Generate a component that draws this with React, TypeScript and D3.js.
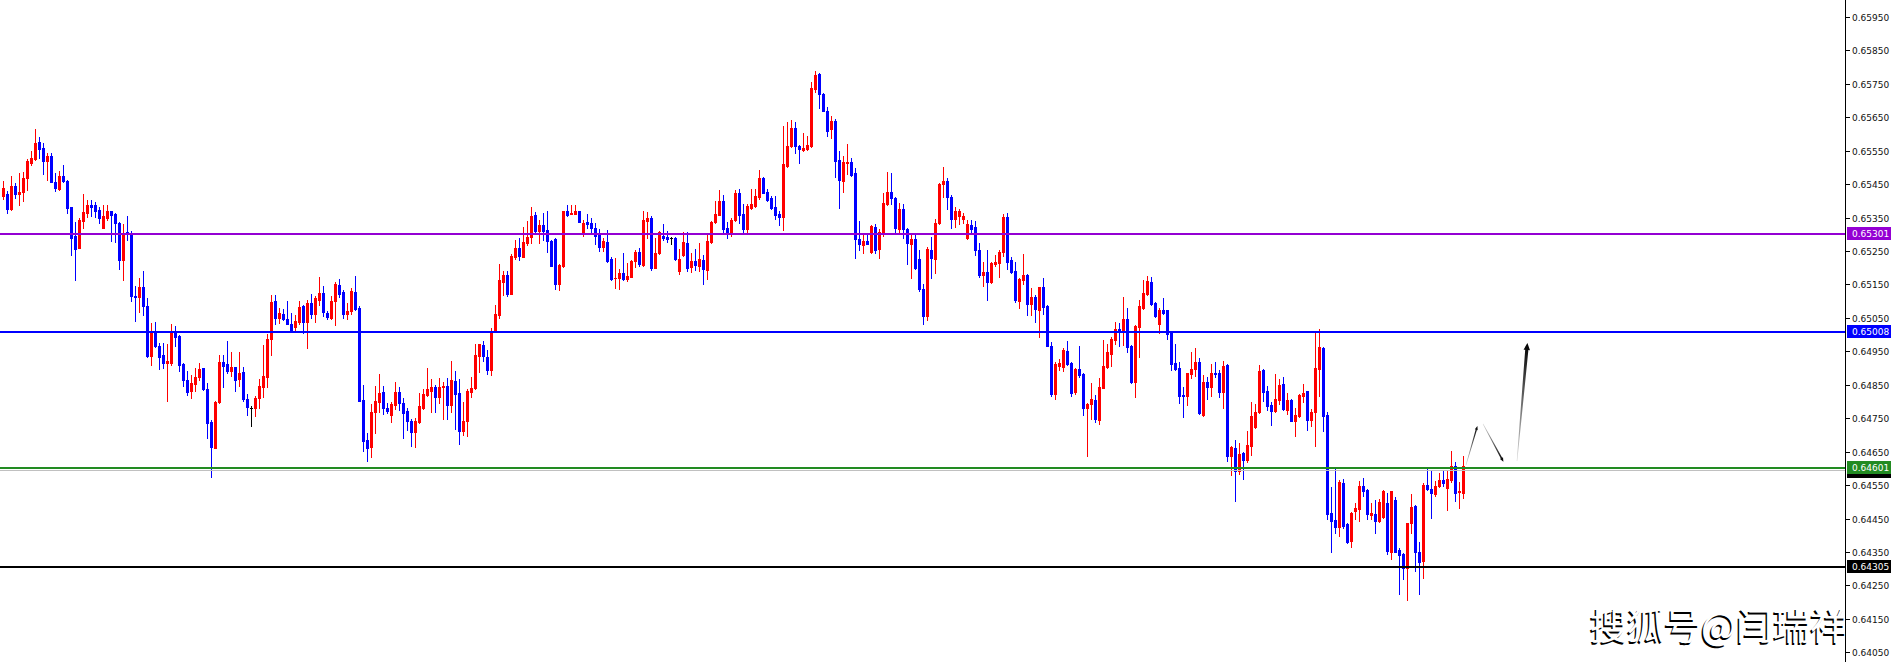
import React from "react";
import * as d3 from "d3";

const WIDTH = 1893;
const HEIGHT = 662;

// OHLC values, in points (1 point = 0.00001)
const opens = [
  65414,65421,65375,65445,65419,65427,65467,65512,65526,65576,
  65558,65520,65534,65457,65436,65475,65460,65381,65296,65260,
  65341,65365,65387,65387,65373,65320,65349,65369,65361,65333,
  65223,65306,65300,65116,65111,65143,65086,64936,65004,64966,
  64939,64914,64914,65009,64996,64912,64864,64831,64852,64874,
  64899,64836,64739,64662,64797,64917,64912,64892,64902,64868,
  64887,64807,64781,64779,64809,64844,64873,64986,65100,65050,
  65063,65048,65033,65023,65038,65085,65038,65093,65063,65103,
  65123,65066,65050,65100,65148,65127,65063,65070,65127,65080,
  64804,64684,64664,64769,64799,64828,64779,64761,64789,64828,
  64796,64772,64742,64709,64739,64779,64819,64831,64844,64812,
  64842,64846,64789,64861,64826,64712,64742,64828,64840,64937,
  64969,64934,64894,65008,65058,65158,65178,65121,65233,65258,
  65233,65275,65291,65359,65311,65328,65313,65280,65286,65151,
  65205,65369,65362,65360,65369,65306,65337,65334,65319,65297,
  65262,65277,65225,65168,65168,65183,65166,65173,65221,65248,
  65208,65341,65349,65200,65243,65296,65293,65288,65288,65191,
  65238,65275,65203,65220,65205,65223,65193,65276,65337,65359,
  65400,65319,65305,65342,65422,65362,65317,65379,65384,65410,
  65469,65426,65409,65382,65360,65352,65504,65564,65617,65564,
  65552,65554,65564,65733,65779,65719,65669,65614,65640,65522,
  65460,65512,65517,65482,65285,65268,65280,65248,65321,65255,
  65306,65390,65427,65409,65316,65375,65315,65271,65285,65225,
  65135,65055,65253,65226,65333,65450,65459,65412,65345,65355,
  65345,65289,65327,65322,65253,65178,65186,65158,65211,65215,
  65246,65352,65223,65190,65100,65163,65178,65090,65113,65073,
  65141,65085,64965,64822,64907,64904,64951,64916,64829,64897,
  64882,64779,64791,64804,64746,64841,64902,64942,64983,65016,
  65013,65048,64965,64857,65023,65080,65121,65156,65093,65031,
  65073,65073,65005,64914,64899,64819,64817,64882,64896,64919,
  64761,64859,64844,64884,64884,64829,64909,64637,64662,64592,
  64646,64624,64668,64725,64768,64894,64832,64788,64772,64805,
  64852,64775,64805,64743,64758,64817,64830,64745,64768,64898,
  64959,64760,64466,64446,64426,64556,64433,64384,64471,64479,
  64546,64536,64461,64464,64444,64456,64496,64351,64506,64356,
  64343,64301,64436,64488,64351,64323,64551,64539,64523,64546,
  64566,64541,64564,64606,64528,64526,
];

const highs = [
  65458,65428,65475,65453,65482,65486,65524,65550,65615,65590,
  65572,65542,65543,65484,65489,65507,65463,65383,65338,65350,
  65421,65403,65403,65395,65381,65387,65387,65371,65365,65338,
  65331,65355,65310,65145,65168,65190,65110,65036,65038,64974,
  64974,64972,65032,65026,64999,64914,64892,64879,64899,64916,
  64901,64854,64745,64800,64939,64939,64982,64948,64904,64949,
  64904,64823,64785,64816,64867,64970,65003,65118,65118,65080,
  65076,65100,65065,65058,65100,65088,65103,65121,65115,65171,
  65145,65070,65115,65156,65165,65133,65095,65138,65175,65085,
  64849,64707,64792,64845,64881,64845,64794,64799,64857,64842,
  64809,64779,64749,64752,64826,64837,64901,64866,64849,64871,
  64858,64871,64921,64891,64867,64799,64836,64872,64972,64972,
  64981,64954,65020,65088,65211,65191,65191,65241,65284,65288,
  65322,65339,65382,65367,65344,65363,65369,65283,65288,65211,
  65370,65389,65387,65387,65370,65344,65360,65349,65334,65315,
  65290,65314,65232,65228,65195,65245,65213,65223,65253,65260,
  65370,65366,65354,65290,65310,65330,65311,65293,65291,65255,
  65308,65306,65243,65255,65275,65238,65303,65339,65400,65432,
  65417,65337,65349,65432,65434,65390,65390,65434,65434,65492,
  65472,65435,65414,65414,65369,65623,65636,65641,65636,65567,
  65602,65595,65756,65788,65781,65721,65681,65653,65644,65550,
  65534,65570,65529,65497,65339,65300,65305,65328,65331,65315,
  65424,65487,65482,65412,65394,65390,65318,65305,65305,65253,
  65150,65263,65293,65345,65454,65500,65467,65417,65382,65377,
  65365,65344,65342,65340,65275,65218,65253,65218,65238,65253,
  65362,65364,65233,65218,65170,65240,65180,65138,65118,65143,
  65168,65088,64978,64919,64926,64959,64981,64919,64901,64966,
  64884,64794,64856,64819,64869,64984,64972,64994,65038,65036,
  65112,65081,64968,65028,65103,65163,65175,65173,65098,65080,
  65108,65075,65008,64973,64919,64844,64886,64947,64961,64929,
  64879,64872,64912,64917,64894,64922,64911,64666,64684,64677,
  64649,64711,64798,64793,64908,64897,64847,64799,64881,64866,
  64874,64825,64808,64780,64822,64852,64832,64777,65004,65017,
  64964,64770,64543,64602,64566,64568,64436,64468,64496,64561,
  64571,64539,64496,64506,64509,64534,64526,64533,64513,64361,
  64346,64436,64523,64491,64381,64556,64599,64593,64561,64586,
  64593,64593,64652,64618,64558,64636,
];

const lows = [
  65406,65365,65373,65407,65388,65398,65433,65507,65522,65528,
  65480,65463,65455,65428,65433,65457,65363,65238,65163,65259,
  65320,65353,65356,65351,65335,65320,65343,65281,65278,65196,
  65163,65283,65099,65042,65069,65059,64932,64909,64964,64898,
  64899,64800,64909,64966,64892,64846,64819,64811,64832,64864,
  64834,64690,64575,64660,64795,64844,64886,64876,64832,64847,
  64800,64760,64726,64756,64779,64814,64844,64938,65031,65035,
  65043,65031,65011,65015,65031,65005,64961,65050,65038,65088,
  65055,65048,65048,65028,65111,65051,65048,65063,65073,64800,
  64652,64622,64634,64706,64769,64762,64766,64739,64777,64774,
  64691,64714,64666,64664,64737,64776,64817,64769,64769,64794,
  64749,64747,64769,64717,64672,64699,64696,64812,64837,64888,
  64922,64882,64879,65008,65049,65118,65115,65120,65225,65223,
  65233,65268,65273,65303,65273,65283,65248,65205,65136,65133,
  65203,65355,65360,65360,65336,65296,65320,65303,65271,65250,
  65250,65218,65163,65140,65136,65163,65160,65171,65201,65206,
  65206,65288,65193,65198,65241,65283,65278,65270,65223,65181,
  65236,65191,65186,65193,65190,65150,65166,65273,65335,65357,
  65305,65290,65294,65340,65335,65302,65302,65377,65382,65404,
  65422,65400,65377,65345,65329,65314,65502,65560,65544,65512,
  65550,65552,65560,65726,65679,65669,65595,65589,65472,65380,
  65425,65479,65474,65228,65253,65243,65270,65245,65243,65228,
  65295,65387,65390,65308,65305,65290,65211,65168,65195,65131,
  65033,65045,65168,65183,65331,65412,65375,65320,65322,65332,
  65334,65286,65302,65238,65173,65145,65103,65155,65205,65173,
  65235,65196,65183,65098,65080,65150,65058,65060,65038,64993,
  65063,64966,64816,64807,64894,64892,64909,64816,64821,64874,
  64759,64637,64749,64739,64734,64839,64899,64907,64971,64966,
  64969,64949,64856,64814,64934,65078,65118,65088,65053,65005,
  65063,64986,64893,64893,64796,64754,64789,64871,64876,64764,
  64757,64806,64816,64874,64814,64779,64622,64579,64502,64584,
  64567,64619,64640,64720,64765,64800,64775,64730,64770,64792,
  64775,64762,64742,64698,64755,64798,64715,64728,64668,64815,
  64712,64449,64351,64406,64399,64423,64378,64366,64449,64444,
  64516,64449,64449,64406,64441,64453,64343,64329,64349,64223,
  64269,64207,64406,64294,64223,64271,64536,64451,64516,64543,
  64546,64476,64559,64501,64481,64511,
];

const closes = [
  65438,65377,65445,65419,65427,65469,65520,65528,65572,65554,
  65520,65534,65457,65437,65475,65460,65380,65290,65257,65343,
  65367,65387,65382,65371,65350,65355,65370,65359,65333,65223,
  65303,65300,65114,65111,65143,65086,64936,65004,64966,64934,
  64914,64922,65009,64994,64909,64864,64829,64854,64874,64898,
  64836,64737,64665,64798,64917,64906,64892,64902,64864,64884,
  64807,64783,64781,64809,64846,64876,64988,65098,65050,65066,
  65048,65033,65013,65040,65083,65038,65093,65063,65110,65125,
  65068,65053,65100,65151,65121,65063,65070,65131,65076,64802,
  64682,64661,64769,64802,64826,64779,64772,64792,64828,64796,
  64766,64742,64709,64741,64786,64822,64837,64842,64814,64842,
  64846,64789,64864,64822,64712,64742,64831,64840,64939,64971,
  64937,64894,65008,65061,65163,65178,65121,65235,65258,65235,
  65276,65293,65354,65311,65328,65311,65281,65206,65151,65208,
  65369,65357,65365,65370,65337,65334,65330,65320,65296,65262,
  65279,65220,65165,65170,65183,65165,65176,65221,65248,65211,
  65343,65348,65200,65245,65306,65290,65286,65288,65225,65226,
  65277,65200,65220,65208,65225,65195,65280,65337,65360,65400,
  65315,65305,65342,65422,65357,65317,65384,65390,65414,65469,
  65424,65402,65380,65357,65352,65510,65564,65617,65564,65554,
  65559,65567,65738,65776,65718,65669,65610,65639,65520,65462,
  65517,65515,65477,65285,65270,65280,65271,65325,65253,65308,
  65394,65425,65407,65318,65375,65315,65273,65285,65198,65135,
  65055,65255,65228,65335,65450,65459,65410,65345,65369,65369,
  65355,65330,65315,65253,65178,65188,65158,65215,65218,65248,
  65352,65218,65186,65103,65166,65178,65091,65113,65076,65141,
  65083,64966,64821,64911,64916,64954,64911,64826,64897,64879,
  64779,64792,64807,64749,64842,64906,64949,64987,65018,65013,
  65048,64964,64857,65025,65085,65123,65160,65091,65056,65073,
  65066,65003,64911,64897,64816,64817,64884,64897,64917,64766,
  64857,64844,64884,64881,64829,64907,64637,64664,64592,64644,
  64626,64669,64758,64770,64892,64828,64785,64772,64808,64850,
  64778,64805,64743,64760,64820,64825,64745,64770,64900,64962,
  64758,64464,64443,64426,64558,64429,64381,64466,64481,64546,
  64531,64463,64466,64444,64499,64531,64354,64531,64351,64341,
  64301,64436,64484,64349,64321,64551,64538,64526,64548,64566,
  64556,64569,64606,64526,64531,64606,
];

const axisTickLabels = [
  "0.64050","0.64150","0.64250","0.64350","0.64450","0.64550","0.64650",
  "0.64750","0.64850","0.64950","0.65050","0.65150","0.65250","0.65350",
  "0.65450","0.65550","0.65650","0.65750","0.65850","0.65950",
];

// horizontal levels
const levelLabels = ["0.65301", "0.65008", "0.64601", "0.64305"];
const levelColors = ["#9400D3", "#0000FF", "#228B22", "#000000"];
const bidLabel = "0.64597";

// hand-drawn projection strokes: bar index and price (points)
const strokeFromIdx = [365.75, 370, 378.5];
const strokeFromPts = [64610, 64733, 64622];
const strokeToIdx = [368.6, 375.1, 381.1];
const strokeToPts = [64727, 64620, 64975];
const strokeStartW = [0.6, 0.6, 0.5];
const strokeEndW = [1.3, 1.6, 3.2];
const strokeHeadLen = [4, 4, 7];
const strokeHeadW = [3, 3.4, 6.5];

const watermark = "搜狐号@闫瑞祥";

const AXIS_X = 1846;

function toPts(s: string) {
  return Math.round(parseFloat(s) * 1e5);
}

function taper(x0: number, y0: number, x1: number, y1: number, w0: number, w1: number, hl: number, hw: number) {
  const dx = x1 - x0, dy = y1 - y0;
  const len = Math.hypot(dx, dy);
  const ux = dx / len, uy = dy / len;
  const nx = -uy, ny = ux;
  const mx = x1 - ux * hl, my = y1 - uy * hl;
  const pts = [
    [x0 + nx * w0 / 2, y0 + ny * w0 / 2],
    [mx + nx * w1 / 2, my + ny * w1 / 2],
    [mx + nx * hw / 2, my + ny * hw / 2],
    [x1, y1],
    [mx - nx * hw / 2, my - ny * hw / 2],
    [mx - nx * w1 / 2, my - ny * w1 / 2],
    [x0 - nx * w0 / 2, y0 - ny * w0 / 2],
  ];
  return pts.map((p) => p[0].toFixed(2) + "," + p[1].toFixed(2)).join(" ");
}

export default function App() {
  const x = d3.scaleLinear().domain([0, 365]).range([3, 1463]);
  const y = d3.scaleLinear().domain([64000, 66000]).range([669.0, 0.18]);

  const font = "'DejaVu Sans', Verdana, sans-serif";

  const candles = opens.map((o, i) => {
    const c = closes[i];
    const h = highs[i];
    const l = lows[i];
    const col = c > o ? "#FF0000" : c < o ? "#0000FF" : "#000000";
    const px = Math.round(x(i));
    const yh = Math.round(y(h));
    const yl = Math.round(y(l));
    const yt = Math.round(y(Math.max(o, c)));
    const yb = Math.round(y(Math.min(o, c)));
    return (
      <g key={i} fill={col}>
        <rect x={px} y={yh} width={1} height={Math.max(1, yl - yh + 1)} />
        <rect x={px - 1} y={yt} width={3} height={Math.max(1, yb - yt + 1)} />
      </g>
    );
  });

  const bidY = Math.round(y(toPts(bidLabel)));

  return (
    <svg
      width={WIDTH}
      height={HEIGHT}
      style={{ position: "absolute", left: 0, top: 0, display: "block" }}
      shapeRendering="crispEdges"
    >
      <defs>
        <clipPath id="plotClip">
          <rect x={0} y={0} width={AXIS_X} height={HEIGHT} />
        </clipPath>
        {strokeFromIdx.map((_, i) => (
          <linearGradient
            key={i}
            id={"sg" + i}
            gradientUnits="userSpaceOnUse"
            x1={x(strokeFromIdx[i])}
            y1={y(strokeFromPts[i])}
            x2={x(strokeToIdx[i])}
            y2={y(strokeToPts[i])}
          >
            <stop offset="0" stopColor="#d8d8d8" />
            <stop offset="0.6" stopColor="#555" />
            <stop offset="1" stopColor="#000" />
          </linearGradient>
        ))}
      </defs>
      <rect x={0} y={0} width={WIDTH} height={HEIGHT} fill="#ffffff" />

      <g clipPath="url(#plotClip)">
        {/* watermark */}
        <g
          fontFamily="'Noto Sans CJK SC', 'Noto Sans CJK JP', sans-serif"
          fontSize={37}
          shapeRendering="auto"
        >
          <text x={1588.5} y={641.5} fill="#000">{watermark}</text>
          <text x={1590} y={640} fill="#ffffff">{watermark}</text>
        </g>

        {candles}

        {/* bid line */}
        <rect x={0} y={bidY + 1} width={AXIS_X} height={1} fill="#c0c0c0" />

        {/* horizontal levels */}
        {levelLabels.map((lab, i) => {
          const ly = Math.round(y(toPts(lab)));
          return <rect key={i} x={0} y={ly - 1} width={AXIS_X} height={2} fill={levelColors[i]} />;
        })}

        {/* hand-drawn strokes */}
        <g shapeRendering="auto">
          {strokeFromIdx.map((_, i) => (
            <polygon
              key={i}
              points={taper(
                x(strokeFromIdx[i]),
                y(strokeFromPts[i]),
                x(strokeToIdx[i]),
                y(strokeToPts[i]),
                strokeStartW[i],
                strokeEndW[i],
                strokeHeadLen[i],
                strokeHeadW[i]
              )}
              fill={"url(#sg" + i + ")"}
            />
          ))}
        </g>
      </g>

      {/* price axis */}
      <rect x={AXIS_X} y={0} width={WIDTH - AXIS_X} height={HEIGHT} fill="#ffffff" />
      <rect x={AXIS_X - 1} y={0} width={1} height={HEIGHT} fill="#000" />
      {axisTickLabels.map((t) => {
        const ty = Math.round(y(toPts(t)));
        return (
          <g key={t}>
            <rect x={AXIS_X} y={ty} width={4} height={1} fill="#000" />
            <text
              x={AXIS_X + 6}
              y={ty + 0.5}
              fontFamily={font}
              fontSize={9}
              fill="#111"
              dominantBaseline="central"
              shapeRendering="auto"
            >
              {t}
            </text>
          </g>
        );
      })}

      {/* bid label (mostly hidden) */}
      <rect x={AXIS_X + 1} y={bidY - 4} width={44} height={13} fill="#000" />

      {levelLabels.map((lab, i) => {
        const ly = Math.round(y(toPts(lab)));
        return (
          <g key={lab}>
            <rect x={AXIS_X + 1} y={ly - 7} width={44} height={13} fill={levelColors[i]} />
            <text
              x={AXIS_X + 6}
              y={ly - 0.5}
              fontFamily={font}
              fontSize={9}
              fill="#ffffff"
              dominantBaseline="central"
              shapeRendering="auto"
            >
              {lab}
            </text>
          </g>
        );
      })}
    </svg>
  );
}
